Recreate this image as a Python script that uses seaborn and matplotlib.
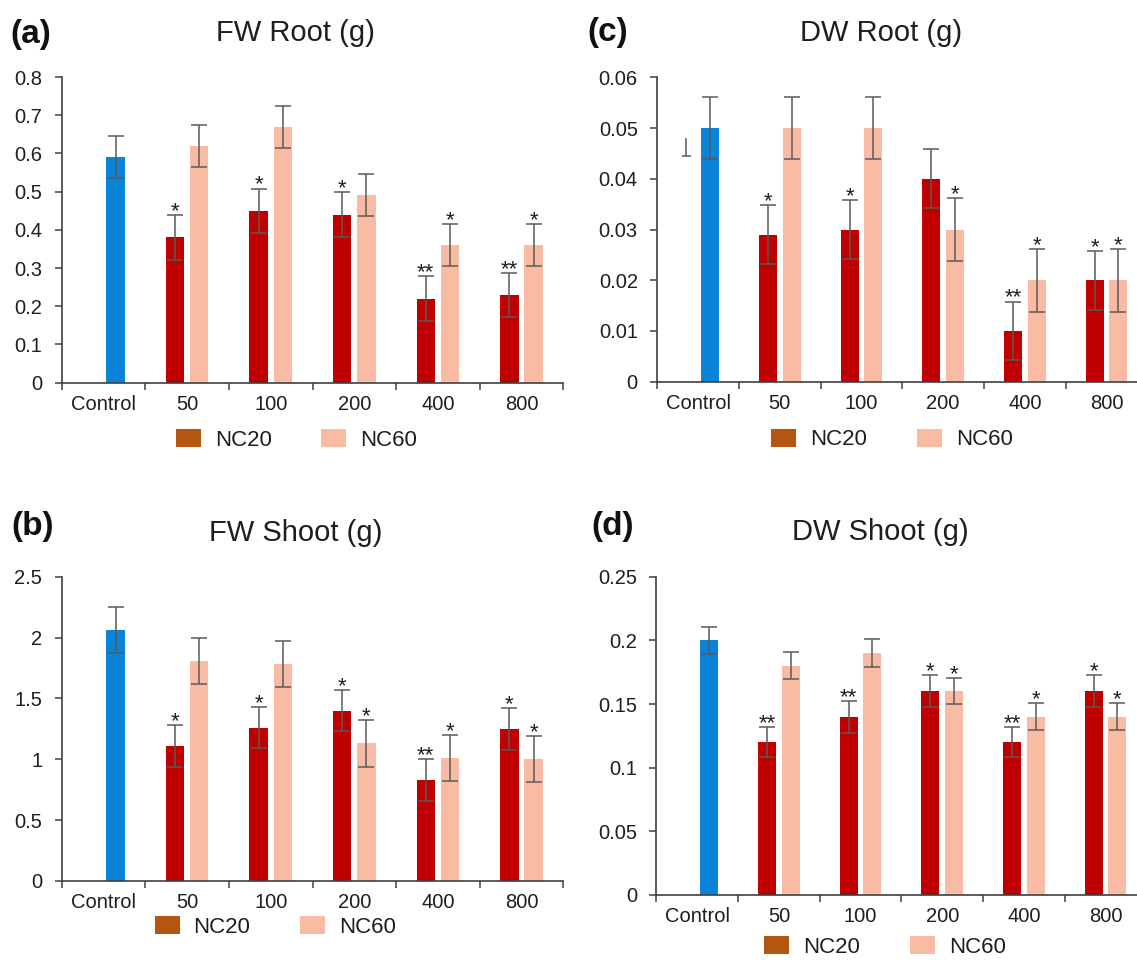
import numpy as np
import pandas as pd
import matplotlib
matplotlib.use("Agg")
import matplotlib.pyplot as plt
import seaborn as sns
from matplotlib.patches import Patch
from matplotlib.container import BarContainer

# ---------------- data ----------------
categories = ["Control", "50", "100", "200", "400", "800"]
doses = ["50", "100", "200", "400", "800"]
series = ["NC20", "NC60"]

# (a) FW Root (g)
fw_root_control, fw_root_control_err = 0.59, 0.055
fw_root_nc20 = [0.38, 0.45, 0.44, 0.22, 0.23]
fw_root_nc20_err = [0.058, 0.058, 0.058, 0.058, 0.058]
fw_root_nc60 = [0.62, 0.67, 0.49, 0.36, 0.36]
fw_root_nc60_err = [0.055, 0.055, 0.055, 0.055, 0.055]
fw_root_nc20_sig = ["*", "*", "*", "**", "**"]
fw_root_nc60_sig = ["", "", "", "*", "*"]
fw_root_yticks = [0, 0.1, 0.2, 0.3, 0.4, 0.5, 0.6, 0.7, 0.8]
fw_root_yticklabels = ["0", "0.1", "0.2", "0.3", "0.4", "0.5", "0.6", "0.7", "0.8"]

# (b) FW Shoot (g)
fw_shoot_control, fw_shoot_control_err = 2.06, 0.19
fw_shoot_nc20 = [1.11, 1.26, 1.40, 0.83, 1.25]
fw_shoot_nc20_err = [0.17, 0.17, 0.17, 0.17, 0.17]
fw_shoot_nc60 = [1.81, 1.78, 1.13, 1.01, 1.00]
fw_shoot_nc60_err = [0.19, 0.19, 0.19, 0.19, 0.19]
fw_shoot_nc20_sig = ["*", "*", "*", "**", "*"]
fw_shoot_nc60_sig = ["", "", "*", "*", "*"]
fw_shoot_yticks = [0, 0.5, 1.0, 1.5, 2.0, 2.5]
fw_shoot_yticklabels = ["0", "0.5", "1", "1.5", "2", "2.5"]

# (c) DW Root (g)
dw_root_control, dw_root_control_err = 0.05, 0.0062
dw_root_control_nc20_stub, dw_root_control_nc20_stub_err = 0.048, 0.0036
dw_root_nc20 = [0.029, 0.030, 0.040, 0.010, 0.020]
dw_root_nc20_err = [0.0058, 0.0058, 0.0058, 0.0058, 0.0058]
dw_root_nc60 = [0.05, 0.05, 0.03, 0.02, 0.02]
dw_root_nc60_err = [0.0062, 0.0062, 0.0062, 0.0062, 0.0062]
dw_root_nc20_sig = ["*", "*", "", "**", "*"]
dw_root_nc60_sig = ["", "", "*", "*", "*"]
dw_root_yticks = [0, 0.01, 0.02, 0.03, 0.04, 0.05, 0.06]
dw_root_yticklabels = ["0", "0.01", "0.02", "0.03", "0.04", "0.05", "0.06"]

# (d) DW Shoot (g)
dw_shoot_control, dw_shoot_control_err = 0.20, 0.0105
dw_shoot_nc20 = [0.12, 0.14, 0.16, 0.12, 0.16]
dw_shoot_nc20_err = [0.012, 0.0125, 0.0125, 0.012, 0.0125]
dw_shoot_nc60 = [0.18, 0.19, 0.16, 0.14, 0.14]
dw_shoot_nc60_err = [0.0105, 0.011, 0.0102, 0.0105, 0.0105]
dw_shoot_nc20_sig = ["**", "**", "*", "**", "*"]
dw_shoot_nc60_sig = ["", "", "*", "*", "*"]
dw_shoot_yticks = [0, 0.05, 0.10, 0.15, 0.20, 0.25]
dw_shoot_yticklabels = ["0", "0.05", "0.1", "0.15", "0.2", "0.25"]

# ---------------- style ----------------
BLUE = "#0A84D8"
RED = "#C00000"
PINK = "#F9BBA4"
LEG_BROWN = "#B4560F"
ERR = "#5A5A5A"
SPINE = "#404040"
TXT = "#1E1E1E"

sns.set_theme(style="white")
plt.rcParams["font.family"] = ["Liberation Sans", "DejaVu Sans"]

W, H = 1137, 960
fig = plt.figure(figsize=(W / 100, H / 100), dpi=100)


def px_rect(left, top, right, bottom):
    return [left / W, 1 - bottom / H, (right - left) / W, (bottom - top) / H]


panels = [
    dict(letter="(a)", title="FW Root (g)",
         rect=px_rect(61.7, 77.0, 563.3, 382.7),
         letter_xy=(10.5, 34), title_xy=(295.5, 33), legend_xy=(0.468, -0.187),
         ctrl=fw_root_control, ctrl_err=fw_root_control_err,
         nc20=fw_root_nc20, nc20_err=fw_root_nc20_err,
         nc60=fw_root_nc60, nc60_err=fw_root_nc60_err,
         nc20_sig=fw_root_nc20_sig, nc60_sig=fw_root_nc60_sig,
         yticks=fw_root_yticks, ylabels=fw_root_yticklabels, stub=None),
    dict(letter="(b)", title="FW Shoot (g)",
         rect=px_rect(61.7, 576.7, 563.3, 881.0),
         letter_xy=(11.5, 527), title_xy=(296, 533), legend_xy=(0.426, -0.152),
         ctrl=fw_shoot_control, ctrl_err=fw_shoot_control_err,
         nc20=fw_shoot_nc20, nc20_err=fw_shoot_nc20_err,
         nc60=fw_shoot_nc60, nc60_err=fw_shoot_nc60_err,
         nc20_sig=fw_shoot_nc20_sig, nc60_sig=fw_shoot_nc60_sig,
         yticks=fw_shoot_yticks, ylabels=fw_shoot_yticklabels, stub=None),
    dict(letter="(c)", title="DW Root (g)",
         rect=px_rect(657.3, 77.3, 1147.3, 381.7),
         letter_xy=(587, 33), title_xy=(881, 33), legend_xy=(0.479, -0.19),
         ctrl=dw_root_control, ctrl_err=dw_root_control_err,
         nc20=dw_root_nc20, nc20_err=dw_root_nc20_err,
         nc60=dw_root_nc60, nc60_err=dw_root_nc60_err,
         nc20_sig=dw_root_nc20_sig, nc60_sig=dw_root_nc60_sig,
         yticks=dw_root_yticks, ylabels=dw_root_yticklabels,
         stub=(dw_root_control_nc20_stub, dw_root_control_nc20_stub_err)),
    dict(letter="(d)", title="DW Shoot (g)",
         rect=px_rect(656.4, 576.7, 1146.4, 895.0),
         letter_xy=(591, 527), title_xy=(880, 532), legend_xy=(0.466, -0.163),
         ctrl=dw_shoot_control, ctrl_err=dw_shoot_control_err,
         nc20=dw_shoot_nc20, nc20_err=dw_shoot_nc20_err,
         nc60=dw_shoot_nc60, nc60_err=dw_shoot_nc60_err,
         nc20_sig=dw_shoot_nc20_sig, nc60_sig=dw_shoot_nc60_sig,
         yticks=dw_shoot_yticks, ylabels=dw_shoot_yticklabels, stub=None),
]

for p in panels:
    rows = [dict(cat="Control", series="NC60", value=p["ctrl"], err=p["ctrl_err"],
                 sig="", kind="control")]
    if p["stub"] is not None:
        rows.append(dict(cat="Control", series="NC20", value=p["stub"][0],
                         err=p["stub"][1], sig="", kind="stub"))
    for i, d in enumerate(doses):
        rows.append(dict(cat=d, series="NC20", value=p["nc20"][i], err=p["nc20_err"][i],
                         sig=p["nc20_sig"][i], kind="bar"))
        rows.append(dict(cat=d, series="NC60", value=p["nc60"][i], err=p["nc60_err"][i],
                         sig=p["nc60_sig"][i], kind="bar"))
    df = pd.DataFrame(rows)

    ax = fig.add_axes(p["rect"])
    sns.barplot(data=df, x="cat", y="value", hue="series", order=categories,
                hue_order=series, palette={"NC20": RED, "NC60": PINK},
                width=0.58, gap=0.24, errorbar=None, legend=False,
                saturation=1, linewidth=0, ax=ax)

    bar_containers = [c for c in ax.containers if isinstance(c, BarContainer)]
    for hi, cont in enumerate(bar_containers):
        s = series[hi]
        for patch in list(cont.patches):
            h = patch.get_height()
            if h is None or np.isnan(h):
                continue
            cx = patch.get_x() + patch.get_width() / 2
            ci = int(round(cx))
            match = df[(df["cat"] == categories[ci]) & (df["series"] == s)]
            if match.empty:
                continue
            r = match.iloc[0]
            if r["kind"] == "control":
                patch.set_facecolor(BLUE)
            if r["kind"] == "stub":
                patch.set_alpha(0)
                capw = patch.get_width() * 0.24
                ax.vlines(cx, r["value"] - r["err"], r["value"], color=ERR, lw=1.1)
                ax.hlines(r["value"] - r["err"], cx - capw, cx + capw, color=ERR, lw=1.1)
                continue
            ax.errorbar(cx, r["value"], yerr=r["err"], fmt="none", ecolor=ERR,
                        elinewidth=1.1, capsize=5.5, capthick=1.1, zorder=3)
            if r["sig"]:
                ax.annotate(r["sig"], (cx, r["value"] + r["err"]), xytext=(0, -1.5),
                            textcoords="offset points", ha="center", va="baseline",
                            fontsize=16, color=TXT)

    ax.set_xlim(-0.5, 5.5)
    ax.set_ylim(p["yticks"][0], p["yticks"][-1])
    ax.set_yticks(p["yticks"])
    ax.set_yticklabels(p["ylabels"])
    ax.set_xticks(np.arange(-0.5, 6.0, 1.0))
    ax.set_xticklabels([])
    ax.set_xticks(np.arange(6), minor=True)
    ax.set_xticklabels(categories, minor=True)
    ax.set_xlabel("")
    ax.set_ylabel("")
    ax.tick_params(axis="x", which="major", bottom=True, length=5, width=1.1,
                   direction="out", color=SPINE)
    ax.tick_params(axis="x", which="minor", bottom=True, length=0, pad=9,
                   labelsize=14.5, labelcolor=TXT)
    ax.tick_params(axis="y", which="major", left=True, length=5, width=1.1,
                   direction="out", color=SPINE, pad=9, labelsize=14.5, labelcolor=TXT)
    for side in ["top", "right"]:
        ax.spines[side].set_visible(False)
    for side in ["left", "bottom"]:
        ax.spines[side].set_color(SPINE)
        ax.spines[side].set_linewidth(1.2)
    ax.set_facecolor("white")

    handles = [Patch(facecolor=LEG_BROWN, edgecolor="none"),
               Patch(facecolor=PINK, edgecolor="none")]
    ax.legend(handles, series, loc="center", bbox_to_anchor=p["legend_xy"], ncol=2,
              frameon=False, fontsize=16, handlelength=1.13, handleheight=0.86,
              handletextpad=0.63, columnspacing=2.24, borderpad=0, borderaxespad=0,
              labelcolor=TXT)

    fig.text(p["letter_xy"][0] / W, 1 - p["letter_xy"][1] / H, p["letter"],
             fontsize=24, fontweight="bold", ha="left", va="center", color="#111111")
    fig.text(p["title_xy"][0] / W, 1 - p["title_xy"][1] / H, p["title"],
             fontsize=21, ha="center", va="center", color=TXT)

fig.savefig("out.png", dpi=100, facecolor="white")
